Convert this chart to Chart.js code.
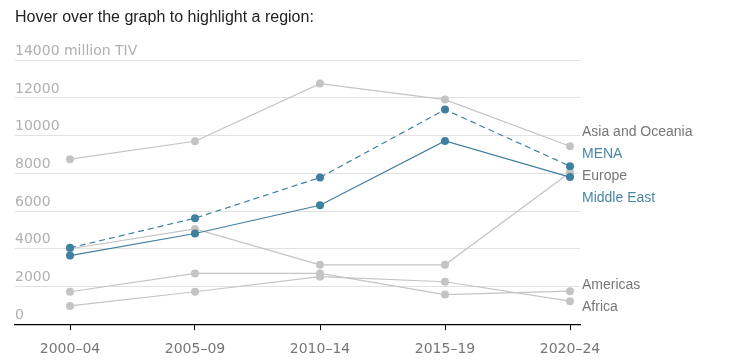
<!DOCTYPE html>
<html>
<head>
<meta charset="utf-8">
<script src="https://cdn.jsdelivr.net/npm/chart.js@4"></script>
<style>
  html, body { margin: 0; padding: 0; background: #fff; }
  #wrap { width: 734px; height: 361px; }
</style>
</head>
<body>
<div id="wrap"><canvas id="chart"></canvas></div>
<script>
const periods = ["2000–04", "2005–09", "2010–14", "2015–19", "2020–24"];

const asiaOceania = [8750, 9700, 12760, 11910, 9440];
const mena = [4050, 5620, 7780, 11380, 8380];
const europe = [4000, 5050, 3150, 3150, 8050];
const middleEast = [3640, 4810, 6310, 9720, 7800];
const americas = [1720, 2690, 2690, 1570, 1750];
const africa = [970, 1720, 2520, 2250, 1220];

const yTicks = [0, 2000, 4000, 6000, 8000, 10000, 12000, 14000];

const BLUE = "#3f7f9f";
const GRAY = "#c4c4c4";

function series(label, values, color, textColor, dashed, order) {
  return {
    label: label,
    data: values.map((v, i) => ({ x: i, y: v })),
    borderColor: color,
    backgroundColor: color,
    pointBackgroundColor: color,
    pointBorderWidth: 0,
    pointRadius: 4,
    borderWidth: 1.2,
    borderDash: dashed ? [6, 4] : [],
    textColor: textColor,
    order: order
  };
}

// labels at the right end, spread apart so they don't overlap
const endLabels = {
  id: "endLabels",
  afterDatasetsDraw(chart) {
    const { ctx, chartArea } = chart;
    const gap = 22;
    let items = chart.data.datasets.map((ds, i) => {
      const meta = chart.getDatasetMeta(i);
      const pt = meta.data[meta.data.length - 1];
      return { text: ds.label, color: ds.textColor, y: pt.y };
    }).sort((a, b) => a.y - b.y);

    // cluster and spread
    let groups = items.map(it => ({ items: [it], center: it.y }));
    let merged = true;
    while (merged) {
      merged = false;
      for (let i = 0; i < groups.length - 1; i++) {
        const a = groups[i], b = groups[i + 1];
        const aBottom = a.center + (a.items.length - 1) * gap / 2;
        const bTop = b.center - (b.items.length - 1) * gap / 2;
        if (bTop - aBottom < gap) {
          const all = a.items.concat(b.items);
          const center = all.reduce((s, it) => s + it.y, 0) / all.length;
          groups.splice(i, 2, { items: all, center: center });
          merged = true;
          break;
        }
      }
    }

    ctx.save();
    ctx.font = "14px 'Liberation Sans', Arial, sans-serif";
    ctx.textAlign = "left";
    ctx.textBaseline = "middle";
    groups.forEach(g => {
      const start = g.center - (g.items.length - 1) * gap / 2;
      g.items.forEach((it, k) => {
        ctx.fillStyle = it.color;
        ctx.fillText(it.text, chartArea.right + 2, start + k * gap);
      });
    });
    ctx.restore();
  }
};

new Chart(document.getElementById("chart"), {
  type: "line",
  data: {
    datasets: [
      series("Asia and Oceania", asiaOceania, GRAY, "#777", false, 5),
      series("MENA", mena, BLUE, "#4a87a6", true, 1),
      series("Europe", europe, GRAY, "#777", false, 5),
      series("Middle East", middleEast, BLUE, "#4a87a6", false, 1),
      series("Americas", americas, GRAY, "#777", false, 5),
      series("Africa", africa, GRAY, "#777", false, 5)
    ]
  },
  options: {
    responsive: true,
    maintainAspectRatio: false,
    animation: false,
    layout: { padding: { left: 15, right: 154, top: 8, bottom: -8 } },
    plugins: {
      legend: { display: false },
      tooltip: { enabled: false },
      title: {
        display: true,
        text: "Hover over the graph to highlight a region:",
        align: "start",
        color: "#222",
        font: { family: "'Liberation Sans', Arial, sans-serif", size: 16, weight: "normal" },
        padding: { top: 0, bottom: 33 }
      }
    },
    scales: {
      x: {
        type: "linear",
        min: -0.44,
        max: 4.08,
        border: { display: true, color: "#000", width: 1.2 },
        grid: { display: true, drawOnChartArea: false, drawTicks: true, tickLength: 6, color: "#000", lineWidth: 1 },
        ticks: {
          stepSize: 1,
          includeBounds: false,
          autoSkip: false,
          maxRotation: 0,
          padding: 11,
          color: "#777",
          font: { family: "'DejaVu Sans', sans-serif", size: 14 },
          callback: v => Number.isInteger(v) ? periods[v] : ""
        }
      },
      y: {
        min: 0,
        max: 14000,
        border: { display: false },
        grid: { color: "#e2e2e2", lineWidth: 1, drawTicks: false },
        afterBuildTicks: scale => { scale.ticks = yTicks.map(v => ({ value: v })); },
        ticks: {
          mirror: true,
          padding: 0,
          labelOffset: -9,
          color: "#b0b0b0",
          font: { family: "'DejaVu Sans', sans-serif", size: 14 },
          callback: v => v === 14000 ? "14000 million TIV" : String(v)
        }
      }
    }
  },
  plugins: [endLabels]
});
</script>
</body>
</html>
